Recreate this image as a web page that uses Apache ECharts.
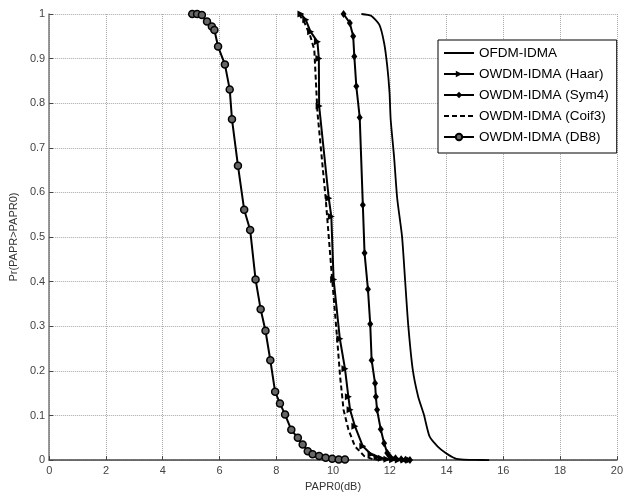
<!DOCTYPE html>
<html>
<head>
<meta charset="utf-8">
<script src="https://cdn.jsdelivr.net/npm/echarts@6/dist/echarts.min.js"></script>
<style>
  html, body { margin: 0; padding: 0; background: #fff; }
  #chart { width: 626px; height: 497px; }
</style>
</head>
<body>
<div id="chart"></div>
<script>
// values (PAPR0 in dB, probability)
var ofdmX = [11.0, 11.34, 11.63, 11.8, 11.91, 11.99, 12.03, 12.15, 12.26, 12.43, 12.54, 12.65, 12.81, 13.0, 13.2, 13.4, 13.68, 13.97, 14.3, 14.6, 15.0, 15.5];
var ofdmP = [1.0, 0.996, 0.976, 0.935, 0.883, 0.824, 0.764, 0.68, 0.587, 0.502, 0.402, 0.302, 0.202, 0.142, 0.102, 0.053, 0.031, 0.016, 0.004, 0.001, 0.0005, 0];

var haarX = [8.87, 9.04, 9.21, 9.45, 9.5, 9.51, 9.85, 9.94, 10.02, 10.24, 10.42, 10.54, 10.6, 10.77, 11.05, 11.34, 11.55, 11.7, 11.9, 12.1, 12.3, 12.5, 12.7];
var haarP = [1.0, 0.987, 0.96, 0.938, 0.9, 0.794, 0.587, 0.546, 0.405, 0.272, 0.205, 0.142, 0.113, 0.076, 0.031, 0.013, 0.007, 0.004, 0.002, 0.001, 0.0005, 0, 0];

var sym4X = [10.37, 10.59, 10.71, 10.75, 10.82, 10.94, 11.05, 11.11, 11.23, 11.31, 11.36, 11.48, 11.51, 11.55, 11.68, 11.8, 11.91, 12.0, 12.2, 12.4, 12.55, 12.71];
var sym4P = [1.0, 0.98, 0.95, 0.905, 0.838, 0.768, 0.572, 0.464, 0.383, 0.305, 0.224, 0.172, 0.142, 0.113, 0.069, 0.038, 0.016, 0.008, 0.004, 0.002, 0.001, 0];

var coif3X = [8.8, 9.0, 9.2, 9.34, 9.45, 9.74, 9.97, 10.14, 10.25, 10.37, 10.54, 10.77, 11.1, 11.4, 11.8];
var coif3P = [1.0, 0.98, 0.95, 0.92, 0.78, 0.587, 0.405, 0.276, 0.187, 0.113, 0.069, 0.031, 0.009, 0.002, 0];

var db8X = [5.04, 5.21, 5.38, 5.56, 5.73, 5.82, 5.95, 6.19, 6.36, 6.44, 6.65, 6.87, 7.08, 7.27, 7.45, 7.62, 7.79, 7.96, 8.13, 8.31, 8.53, 8.76, 8.93, 9.11, 9.28, 9.51, 9.74, 9.97, 10.2, 10.42];
var db8P = [1.0, 1.0, 0.998, 0.983, 0.972, 0.964, 0.927, 0.887, 0.831, 0.764, 0.66, 0.561, 0.516, 0.405, 0.338, 0.29, 0.224, 0.153, 0.127, 0.102, 0.068, 0.05, 0.035, 0.02, 0.013, 0.009, 0.005, 0.003, 0.0015, 0.0015];

var seriesNames = ['OFDM-IDMA', 'OWDM-IDMA (Haar)', 'OWDM-IDMA (Sym4)', 'OWDM-IDMA (Coif3)', 'OWDM-IDMA (DB8)'];

function zip(xs, ys) {
  var out = [];
  for (var i = 0; i < xs.length; i++) out.push([xs[i], ys[i]]);
  return out;
}

var font = "'Liberation Sans Narrow', 'Liberation Sans', Arial, sans-serif";

var chart = echarts.init(document.getElementById('chart'));
var option = {
  animation: false,
  backgroundColor: '#fff',
  grid: { left: 40, right: 4, top: 14, bottom: 33 },
  legend: {
    orient: 'vertical',
    left: 438,
    top: 40,
    padding: [6, 8, 9, 5],
    itemGap: 7,
    itemWidth: 30,
    itemHeight: 8,
    borderColor: '#000',
    borderWidth: 1,
    backgroundColor: '#fff',
    textStyle: { fontFamily: "'Liberation Sans', Arial, sans-serif", fontSize: 13.5, lineHeight: 14, color: '#000' },
    data: [
      { name: seriesNames[0], itemStyle: { opacity: 0 } },
      { name: seriesNames[1] },
      { name: seriesNames[2] },
      { name: seriesNames[3], itemStyle: { opacity: 0 } },
      { name: seriesNames[4] }
    ]
  },
  xAxis: {
    type: 'value',
    min: 0, max: 20, interval: 2,
    name: 'PAPR0(dB)',
    nameLocation: 'middle',
    nameGap: 17,
    nameTextStyle: { fontFamily: font, fontSize: 11, color: '#333' },
    axisLine: { lineStyle: { color: '#444', width: 1.5 } },
    axisTick: { inside: true, length: 4, lineStyle: { color: '#444' } },
    axisLabel: { fontFamily: font, fontSize: 11, color: '#444', margin: 5 },
    splitLine: { show: true, lineStyle: { type: 'dotted', color: '#aaa', width: 1 } }
  },
  yAxis: {
    type: 'value',
    min: 0, max: 1, interval: 0.1,
    name: 'Pr(PAPR>PAPR0)',
    nameLocation: 'middle',
    nameGap: 29,
    nameTextStyle: { fontFamily: font, fontSize: 11, color: '#333' },
    axisLine: { show: true, lineStyle: { color: '#777', width: 1.5 } },
    axisTick: { show: true, inside: true, length: 4, lineStyle: { color: '#444' } },
    axisLabel: {
      fontFamily: font, fontSize: 11, color: '#444', margin: 4,
      formatter: function(v) { return String(+v.toFixed(1)); }
    },
    splitLine: { show: true, lineStyle: { type: 'dotted', color: '#aaa', width: 1 } }
  },
  series: [
    {
      name: seriesNames[0], type: 'line', symbol: 'none', smooth: 0.2,
      lineStyle: { color: '#000', width: 1.8 },
      itemStyle: { color: '#000' },
      data: zip(ofdmX, ofdmP)
    },
    {
      name: seriesNames[1], type: 'line', symbol: 'triangle', symbolSize: 7, symbolRotate: -90,
      lineStyle: { color: '#000', width: 2 },
      itemStyle: { color: '#000' },
      data: zip(haarX, haarP)
    },
    {
      name: seriesNames[2], type: 'line', symbol: 'diamond', symbolSize: [6, 8],
      lineStyle: { color: '#000', width: 2 },
      itemStyle: { color: '#000' },
      data: zip(sym4X, sym4P)
    },
    {
      name: seriesNames[3], type: 'line', symbol: 'none',
      lineStyle: { color: '#000', width: 2, type: [5, 3] },
      itemStyle: { color: '#000' },
      data: zip(coif3X, coif3P)
    },
    {
      name: seriesNames[4], type: 'line', symbol: 'circle', symbolSize: 7,
      lineStyle: { color: '#000', width: 2 },
      itemStyle: { color: '#666', borderColor: '#000', borderWidth: 1.5 },
      data: zip(db8X, db8P)
    }
  ]
};
chart.setOption(option);
</script>
</body>
</html>
